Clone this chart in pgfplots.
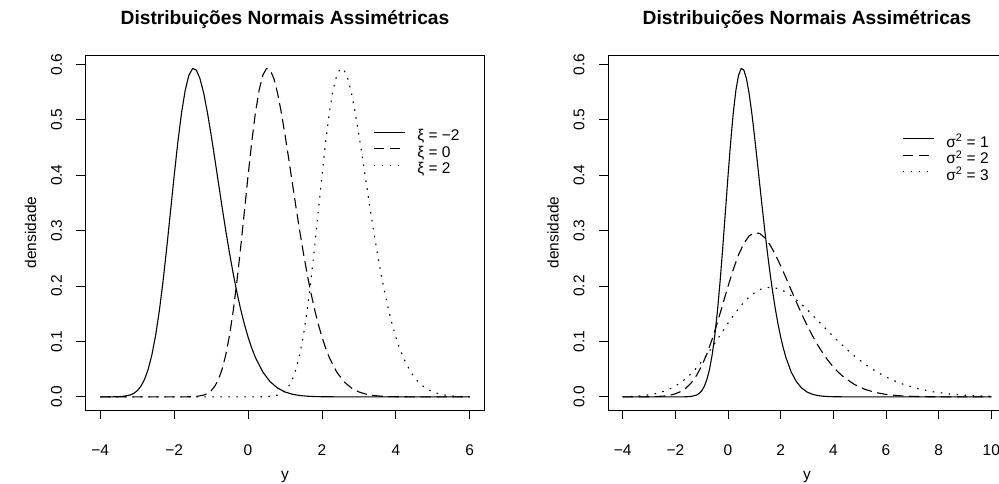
\documentclass[border=0pt]{standalone}
\usepackage{pgfplots}
\pgfplotsset{compat=1.18}
\usepackage{fontspec}
\setmainfont{Liberation Sans}

\newcommand{\ticksize}{\fontsize{15.5}{18}\selectfont}
\pgfplotsset{
  rstyle/.style={
    scale only axis, height=355pt,
    ymin=-0.0237, ymax=0.6168,
    axis line style={line width=0.8pt, black},
    tick align=outside, major tick length=9pt,
    tick style={line width=0.8pt, black},
    xtick pos=left, ytick pos=left,
    ytick={0,0.1,0.2,0.3,0.4,0.5,0.6},
    yticklabels={0.0,0.1,0.2,0.3,0.4,0.5,0.6},
    tick label style={font=\ticksize},
    yticklabel style={rotate=90, anchor=south, yshift=11pt},
    xticklabel style={yshift=-22pt},
    label style={font=\ticksize},
    xlabel={y}, ylabel={densidade},
    xlabel style={at={(axis description cs:0.5,0)}, anchor=base, yshift=-69pt},
    ylabel style={at={(axis description cs:0,0.5)}, anchor=center, yshift=55pt},
    title style={font=\bfseries\fontsize{19.2}{22}\selectfont, at={(axis description cs:0.5,1)}, anchor=base, yshift=24pt},
    title={Distribuições Normais Assimétricas},
    legend style={draw=none, fill=none, inner sep=0pt, row sep=1.5pt,
      nodes={inner sep=0pt, text height=11pt, text depth=4pt, font=\ticksize},
      column sep=12pt},
    legend cell align=left,
    legend image code/.code={\draw[##1] (0pt,5pt) -- (31pt,5pt);},
  },
  solidR/.style={black, solid, line width=1.1pt, no markers},
  dashR/.style={black, line width=1.1pt, no markers, dash pattern=on 10.5pt off 5.5pt},
  dotR/.style={black, line width=1.1pt, no markers, dash pattern=on 1.6pt off 6.4pt},
}

\begin{document}
\begin{tikzpicture}
\useasboundingbox (0pt,0pt) rectangle (999pt,483pt);

\begin{axis}[rstyle, at={(85.5pt,73pt)}, anchor=south west, width=399pt,
  xmin=-4.4, xmax=6.4,
  xtick={-4,-2,0,2,4,6}, xticklabels={−4,−2,0,2,4,6},
  legend style={at={(axis description cs:0.7206,0.79)}, anchor=north west}]
\addplot[solidR] coordinates {
(-4,0.0000034) (-3.8,0.000025) (-3.6,0.000152) (-3.4,0.000765) (-3.2,0.003184)
(-3.1,0.006056) (-3.0,0.01101) (-2.9,0.01912) (-2.8,0.03175) (-2.7,0.05043)
(-2.6,0.07669) (-2.5,0.11172) (-2.4,0.15604) (-2.3,0.20919) (-2.2,0.26949)
(-2.1,0.33403) (-2.0,0.39894) (-1.9,0.45988) (-1.8,0.51259) (-1.7,0.55358)
(-1.6,0.58050) (-1.5,0.59242) (-1.4,0.58975) (-1.3,0.57407) (-1.2,0.54763)
(-1.1,0.51306) (-1.0,0.47293) (-0.9,0.42964) (-0.8,0.38519) (-0.7,0.34114)
(-0.6,0.29869) (-0.5,0.25869) (-0.4,0.22169) (-0.3,0.18803) (-0.2,0.15788)
(-0.1,0.13122) (0.0,0.10798) (0.1,0.08796) (0.2,0.07094) (0.4,0.04478)
(0.6,0.02716) (0.8,0.01583) (1.0,0.00886) (1.2,0.00477) (1.4,0.00246)
(1.6,0.00122) (1.8,0.00058) (2.0,0.00027) (2.5,0.00003) (3.0,0) (6.0,0)
};
\addlegendentry{ξ = −2}
\addplot[dashR] coordinates {
(-4,0) (-2.5,0) (-2.0,0.0000034) (-1.8,0.000025) (-1.6,0.000152) (-1.4,0.000765)
(-1.2,0.003184) (-1.1,0.006056) (-1.0,0.01101) (-0.9,0.01912) (-0.8,0.03175)
(-0.7,0.05043) (-0.6,0.07669) (-0.5,0.11172) (-0.4,0.15604) (-0.3,0.20919)
(-0.2,0.26949) (-0.1,0.33403) (0,0.39894) (0.1,0.45988) (0.2,0.51259)
(0.3,0.55358) (0.4,0.58050) (0.5,0.59242) (0.6,0.58975) (0.7,0.57407)
(0.8,0.54763) (0.9,0.51306) (1.0,0.47293) (1.1,0.42964) (1.2,0.38519)
(1.3,0.34114) (1.4,0.29869) (1.5,0.25869) (1.6,0.22169) (1.7,0.18803)
(1.8,0.15788) (1.9,0.13122) (2.0,0.10798) (2.1,0.08796) (2.2,0.07094)
(2.4,0.04478) (2.6,0.02716) (2.8,0.01583) (3.0,0.00886) (3.2,0.00477)
(3.4,0.00246) (3.6,0.00122) (3.8,0.00058) (4.0,0.00027) (4.5,0.00003) (5.0,0) (6.0,0)
};
\addlegendentry{ξ = 0}
\addplot[dotR] coordinates {
(-4,0) (-0.5,0) (0.0,0.0000034) (0.2,0.000025) (0.4,0.000152) (0.6,0.000765)
(0.8,0.003184) (0.9,0.006056) (1.0,0.01101) (1.1,0.01912) (1.2,0.03175)
(1.3,0.05043) (1.4,0.07669) (1.5,0.11172) (1.6,0.15604) (1.7,0.20919)
(1.8,0.26949) (1.9,0.33403) (2.0,0.39894) (2.1,0.45988) (2.2,0.51259)
(2.3,0.55358) (2.4,0.58050) (2.5,0.59242) (2.6,0.58975) (2.7,0.57407)
(2.8,0.54763) (2.9,0.51306) (3.0,0.47293) (3.1,0.42964) (3.2,0.38519)
(3.3,0.34114) (3.4,0.29869) (3.5,0.25869) (3.6,0.22169) (3.7,0.18803)
(3.8,0.15788) (3.9,0.13122) (4.0,0.10798) (4.1,0.08796) (4.2,0.07094)
(4.4,0.04478) (4.6,0.02716) (4.8,0.01583) (5.0,0.00886) (5.2,0.00477)
(5.4,0.00246) (5.6,0.00122) (5.8,0.00058) (6.0,0.00027)
};
\addlegendentry{ξ = 2}
\end{axis}

\begin{axis}[rstyle, at={(608pt,73pt)}, anchor=south west, width=398pt,
  xmin=-4.56, xmax=10.56,
  xtick={-4,-2,0,2,4,6,8,10}, xticklabels={−4,−2,0,2,4,6,8,10},
  legend style={at={(axis description cs:0.7387,0.772)}, anchor=north west}]
\addplot[solidR] coordinates {
(-4,0) (-2.5,0) (-2.0,0.0000034) (-1.8,0.000025) (-1.6,0.000152) (-1.4,0.000765)
(-1.2,0.003184) (-1.1,0.006056) (-1.0,0.01101) (-0.9,0.01912) (-0.8,0.03175)
(-0.7,0.05043) (-0.6,0.07669) (-0.5,0.11172) (-0.4,0.15604) (-0.3,0.20919)
(-0.2,0.26949) (-0.1,0.33403) (0,0.39894) (0.1,0.45988) (0.2,0.51259)
(0.3,0.55358) (0.4,0.58050) (0.5,0.59242) (0.6,0.58975) (0.7,0.57407)
(0.8,0.54763) (0.9,0.51306) (1.0,0.47293) (1.1,0.42964) (1.2,0.38519)
(1.3,0.34114) (1.4,0.29869) (1.5,0.25869) (1.6,0.22169) (1.7,0.18803)
(1.8,0.15788) (1.9,0.13122) (2.0,0.10798) (2.1,0.08796) (2.2,0.07094)
(2.4,0.04478) (2.6,0.02716) (2.8,0.01583) (3.0,0.00886) (3.2,0.00477)
(3.4,0.00246) (3.6,0.00122) (3.8,0.00058) (4.0,0.00027) (4.5,0.00003) (5.0,0) (10.0,0)
};
\addlegendentry{σ\textsuperscript{2} = 1}
\addplot[dashR] coordinates {
(-4,0.0000017) (-3.6,0.0000125) (-3.2,0.000076) (-2.8,0.000383) (-2.4,0.001592)
(-2.2,0.003028) (-2.0,0.005505) (-1.8,0.00956) (-1.6,0.015875) (-1.4,0.025215)
(-1.2,0.038345) (-1.0,0.05586) (-0.8,0.07802) (-0.6,0.104595) (-0.4,0.134745)
(-0.2,0.167015) (0,0.19947) (0.2,0.22994) (0.4,0.256295) (0.6,0.27679)
(0.8,0.29025) (1.0,0.29621) (1.2,0.294875) (1.4,0.287035) (1.6,0.273815)
(1.8,0.25653) (2.0,0.236465) (2.2,0.21482) (2.4,0.192595) (2.6,0.17057)
(2.8,0.149345) (3.0,0.129345) (3.2,0.110845) (3.4,0.094015) (3.6,0.07894)
(3.8,0.06561) (4.0,0.05399) (4.2,0.04398) (4.4,0.03547) (4.8,0.02239)
(5.2,0.01358) (5.6,0.007915) (6.0,0.00443) (6.4,0.002385) (6.8,0.00123)
(7.2,0.00061) (7.6,0.00029) (8.0,0.000135) (9.0,0.000015) (10.0,0)
};
\addlegendentry{σ\textsuperscript{2} = 2}
\addplot[dotR] coordinates {
(-4,0.000419) (-3.6,0.001061) (-3.3,0.002019) (-3.0,0.00367) (-2.7,0.006373)
(-2.4,0.010583) (-2.1,0.01681) (-1.8,0.02556) (-1.5,0.03724) (-1.2,0.052013)
(-0.9,0.06973) (-0.6,0.08983) (-0.3,0.111343) (0,0.13298) (0.3,0.153293)
(0.6,0.170863) (0.9,0.184527) (1.2,0.1935) (1.5,0.197473) (1.8,0.196583)
(2.1,0.191357) (2.4,0.182543) (2.7,0.17102) (3.0,0.157643) (3.3,0.143213)
(3.6,0.128397) (3.9,0.113713) (4.2,0.099563) (4.5,0.08623) (4.8,0.073897)
(5.1,0.062677) (5.4,0.05263) (5.7,0.04374) (6.0,0.035993) (6.3,0.02932)
(6.6,0.023647) (7.2,0.014927) (7.8,0.009053) (8.4,0.005277) (9.0,0.002953)
(9.6,0.00159) (10.0,0.001028)
};
\addlegendentry{σ\textsuperscript{2} = 3}
\end{axis}
\end{tikzpicture}
\end{document}
